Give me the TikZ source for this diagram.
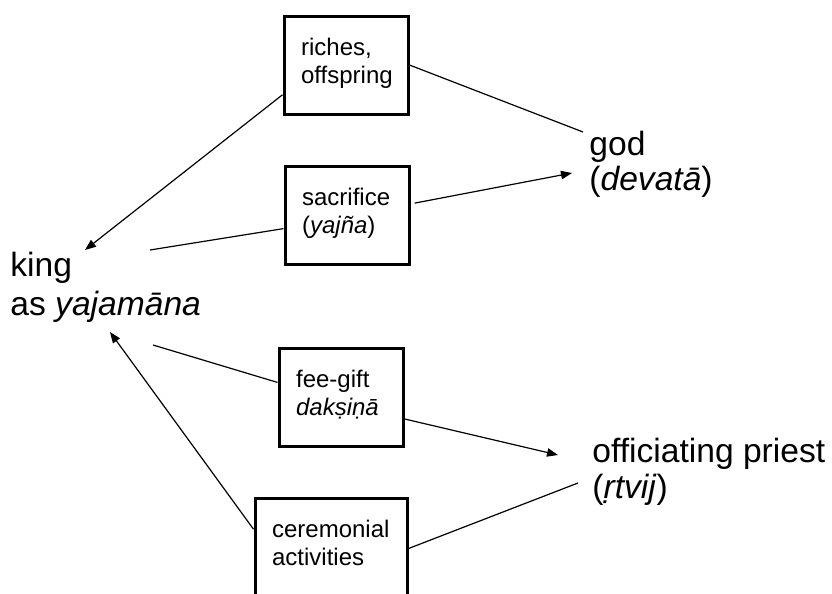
\documentclass[tikz,border=0pt]{standalone}
\usepackage{fontspec}
\setmainfont{Liberation Sans}
\usetikzlibrary{arrows.meta}
\tikzset{
  block/.style={rectangle, draw=black, line width=1.6pt, anchor=north west,
    text width=45pt, align=left, inner xsep=8.5pt, inner ysep=11pt,
    text height=8.8pt, text depth=18.2pt, font=\fontsize{12}{13.8}\selectfont},
  wideblock/.style={block, text width=59pt},
  bigtext/.style={anchor=base west, align=left, inner sep=0pt,
    font=\fontsize{16.8}{17.8}\selectfont},
  arrow/.style={-{Triangle[length=5.5pt, width=4.2pt]}, line width=0.6pt, color=black},
  line/.style={line width=0.6pt, color=black}
}

\begin{document}
\begin{tikzpicture}[x=0.5pt, y=-0.5pt]
  \useasboundingbox (0,0) rectangle (832,594);

  \node[bigtext, font=\fontsize{16.8}{19.5}\selectfont] (king) at (10,315) {king\\as \textit{yajamāna}};
  \node[bigtext] (god) at (589,191) {god\\(\textit{devatā})};
  \node[bigtext] (priest) at (592,498) {officiating priest\\(\textit{ṛtvij})};

  \node[block] (rich) at (282.5,14.5) {riches,\\offspring};
  \node[block] (sac) at (283.5,164.5) {sacrifice\\(\textit{yajña})};
  \node[block] (fee) at (277.5,346.5) {fee-gift\\\textit{dakṣiṇā}};
  \node[wideblock] (cer) at (253.5,496.5) {ceremonial\\activities};

  \coordinate (kingA) at (85,250);
  \coordinate (kingB) at (150,250);
  \coordinate (kingC) at (153,345);
  \coordinate (kingD) at (110,332);
  \coordinate (godA) at (583,132);
  \coordinate (godB) at (572,173);
  \coordinate (priestA) at (558,455);
  \coordinate (priestB) at (578,483);

  \draw[arrow] (rich.205) -- (kingA);
  \draw[line] (rich.east) -- (godA);
  \draw[line] (kingB) -- (sac.192);
  \draw[arrow, shorten <=2pt] (sac.10) -- (godB);
  \draw[line] (kingC) -- (fee.167);
  \draw[arrow] (fee.341) -- (priestA);
  \draw[arrow] (cer.167) -- (kingD);
  \draw[line] (cer.359) -- (priestB);
\end{tikzpicture}
\end{document}
